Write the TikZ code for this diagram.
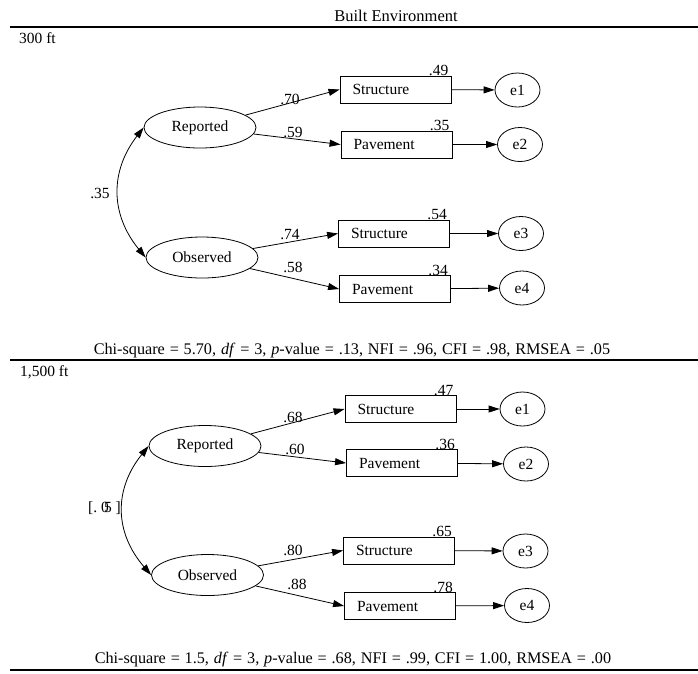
\documentclass[tikz,border=0pt]{standalone}
\usepackage{fontspec}
\setmainfont{Liberation Serif}
\usetikzlibrary{arrows.meta,shapes.geometric}
\begin{document}
\begin{tikzpicture}[x=1pt,y=-1pt,
 every node/.style={font=\fontsize{15.5}{18}\selectfont},
 latent/.style={draw,ellipse,minimum width=112pt,minimum height=41pt,inner sep=0pt,line width=0.8pt},
 errnode/.style={draw,ellipse,minimum width=45pt,minimum height=34pt,inner sep=0pt,line width=0.8pt},
 indbox/.style={draw,rectangle,text width=86pt,inner xsep=12.5pt,minimum height=27pt,inner ysep=0pt,align=left,line width=0.9pt},
 arr/.style={-{Triangle[length=11pt,width=7pt]},line width=0.8pt},
 darr/.style={{Triangle[length=11pt,width=7pt]}-{Triangle[length=11pt,width=7pt]},line width=0.8pt},
 rulel/.style={line width=1.3pt},
 lbl/.style={inner sep=0pt},
 fitline/.style={inner sep=0pt,font=\fontsize{16.2}{19}\selectfont,execute at begin node={\spaceskip=0.3em\relax}}
]
\useasboundingbox (0,0) rectangle (698,673);

% header
\node[lbl,font=\fontsize{16.5}{19}\selectfont] (title) at (396,16) {Built Environment};
\coordinate (h1a) at (10,27); \coordinate (h1b) at (698,27);
\draw[rulel] (h1a) -- (h1b);
\node[lbl,anchor=west] (sec1) at (19,38) {300 ft};

% ---------- 300 ft ----------
\node[latent] (rep1) at (200,127.5) {Reported};
\node[latent] (obs1) at (202,257.5) {Observed};
\node[indbox] (s1) at (395.5,89.5) {Structure};
\node[indbox] (p1) at (396.5,144.5) {Pavement};
\node[indbox] (s3) at (394,233.5) {Structure};
\node[indbox] (p3) at (395,289) {Pavement};
\node[errnode] (e1a) at (517.5,90) {e1};
\node[errnode] (e2a) at (520,144.5) {e2};
\node[errnode] (e3a) at (521,233.5) {e3};
\node[errnode] (e4a) at (522,288) {e4};

\draw[arr] (rep1) -- (s1.west);
\draw[arr] (rep1) -- (p1.west);
\draw[arr] (obs1) -- (s3.west);
\draw[arr] (obs1) -- (p3.west);
\draw[arr] (s1) -- (e1a);
\draw[arr] (p1) -- (e2a);
\draw[arr] (s3) -- (e3a);
\draw[arr] (p3) -- (e4a);
\draw[darr] (rep1.west) .. controls (110,171) and (110,214) .. (obs1.west);

\node[lbl] (l70) at (290,99) {.70};
\node[lbl] (l59) at (293,132) {.59};
\node[lbl] (l74) at (290,235) {.74};
\node[lbl] (l58) at (293,267) {.58};
\node[lbl] (l35) at (100,193) {.35};
\node[lbl,anchor=base east] (r49) at ([xshift=-3pt]s1.north east) {.49};
\node[lbl,anchor=base east] (r35) at ([xshift=-3pt]p1.north east) {.35};
\node[lbl,anchor=base east] (r54) at ([xshift=-3pt]s3.north east) {.54};
\node[lbl,anchor=base east] (r34) at ([xshift=-3pt]p3.north east) {.34};

\node[fitline] (fit1) at (352,351) {Chi-square = 5.70, \textit{df} = 3, \textit{p}-value = .13, NFI = .96, CFI = .98, RMSEA = .05};
\coordinate (h2a) at (10,360); \coordinate (h2b) at (698,360);
\draw[rulel] (h2a) -- (h2b);
\node[lbl,anchor=west] (sec2) at (20,372) {1,500 ft};

% ---------- 1,500 ft ----------
\node[latent] (rep2) at (205,446) {Reported};
\node[latent] (obs2) at (207.5,575) {Observed};
\node[indbox] (s2) at (400.5,409) {Structure};
\node[indbox] (p2) at (402,463) {Pavement};
\node[indbox] (s4) at (399,550.5) {Structure};
\node[indbox] (p4) at (400,606) {Pavement};
\node[errnode] (e1b) at (522.5,409) {e1};
\node[errnode] (e2b) at (526,464) {e2};
\node[errnode] (e3b) at (525.5,551) {e3};
\node[errnode] (e4b) at (527,605.5) {e4};

\draw[arr] (rep2) -- (s2.west);
\draw[arr] (rep2) -- (p2.west);
\draw[arr] (obs2) -- (s4.west);
\draw[arr] (obs2) -- (p4.west);
\draw[arr] (s2) -- (e1b);
\draw[arr] (p2) -- (e2b);
\draw[arr] (s4) -- (e3b);
\draw[arr] (p4) -- (e4b);
\draw[darr] (rep2.west) .. controls (114,489) and (114,532) .. (obs2.west);

\node[lbl] (l68) at (293,417) {.68};
\node[lbl] (l60) at (295,449) {.60};
\node[lbl] (l80) at (293,550) {.80};
\node[lbl] (l88) at (297,584) {.88};
\node[lbl] (l05) at (104.5,508) {[.\ 0\kern-0.3em5\ ]};
\node[lbl,anchor=base east] (r47) at ([xshift=-3pt]s2.north east) {.47};
\node[lbl,anchor=base east] (r36) at ([xshift=-3pt]p2.north east) {.36};
\node[lbl,anchor=base east] (r65) at ([xshift=-3pt]s4.north east) {.65};
\node[lbl,anchor=base east] (r78) at ([xshift=-3pt]p4.north east) {.78};

\node[fitline] (fit2) at (353,660) {Chi-square = 1.5, \textit{df} = 3, \textit{p}-value = .68, NFI = .99, CFI = 1.00, RMSEA = .00};
\coordinate (h3a) at (10,670); \coordinate (h3b) at (698,670);
\draw[rulel] (h3a) -- (h3b);
\end{tikzpicture}
\end{document}
